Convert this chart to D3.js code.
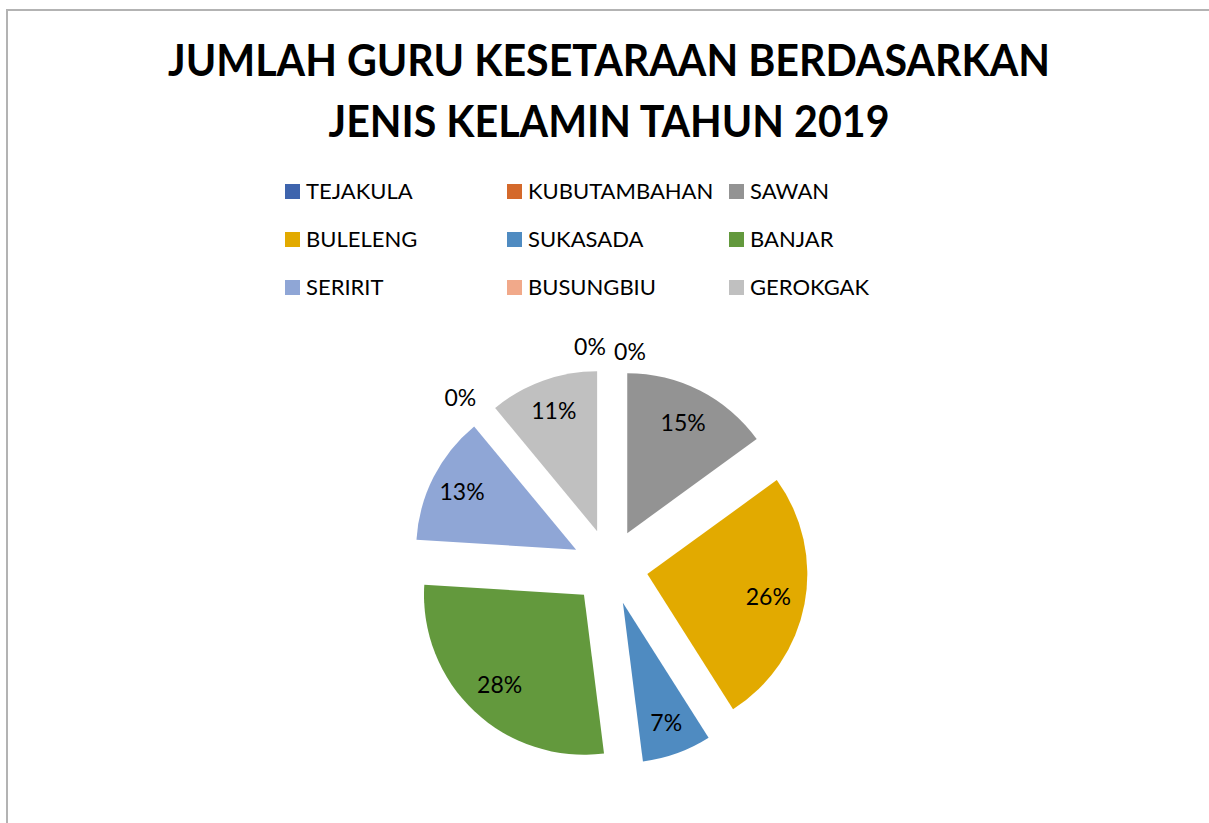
<!DOCTYPE html>
<html>
<head>
<meta charset="utf-8">
<script src="https://cdn.jsdelivr.net/npm/d3@7"></script>
<style>
  body { margin: 0; background: #fff; }
  text { font-family: Lato, "Open Sans", sans-serif; }
</style>
</head>
<body>
<div id="chart"></div>
<script>
(function () {

  // kecamatan + share of teachers (percent)
  const districts = ['TEJAKULA', 'KUBUTAMBAHAN', 'SAWAN', 'BULELENG', 'SUKASADA',
    'BANJAR', 'SERIRIT', 'BUSUNGBIU', 'GEROKGAK']
  const shares = [0, 0, 15, 26, 7, 28, 13, 0, 11]
  const colors = ['#3e64ad', '#d4692b', '#939393', '#e2aa00', '#4f8bc1',
    '#63993d', '#8fa6d6', '#f1a98a', '#c0c0c0']
  const titleLines = ['JUMLAH GURU KESETARAAN BERDASARKAN', 'JENIS KELAMIN TAHUN 2019']
  const titleWidths = [882, 561]

  const width = 1209
  const height = 823

  const svg = d3.select('#chart').append('svg')
    .attr('width', width)
    .attr('height', height)

  // chart frame (only left/top edges are visible)
  svg.append('rect')
    .attr('x', 7)
    .attr('y', 10)
    .attr('width', width + 20)
    .attr('height', height + 20)
    .attr('fill', 'none')
    .attr('stroke', '#b3b3b3')
    .attr('stroke-width', 2)

  svg.selectAll('.title')
    .data(titleLines)
    .join('text')
    .attr('class', 'title')
    .attr('x', 609)
    .attr('y', (d, i) => 76 + i * 61)
    .attr('text-anchor', 'middle')
    .attr('font-size', 43)
    .attr('font-weight', 'bold')
    .attr('fill', '#000')
    .attr('textLength', (d, i) => titleWidths[i])
    .attr('lengthAdjust', 'spacingAndGlyphs')
    .text(d => d)

  // legend, 3 columns
  const colX = d3.scalePoint().domain([0, 1, 2]).range([285, 729])
  const rowY = d3.scalePoint().domain([0, 1, 2]).range([191.5, 287.5])

  const legend = svg.append('g')
    .selectAll('g')
    .data(districts)
    .join('g')
    .attr('transform', (d, i) => `translate(${colX(i % 3)},${rowY(Math.floor(i / 3))})`)

  legend.append('rect')
    .attr('x', 0)
    .attr('y', -7.5)
    .attr('width', 15)
    .attr('height', 15)
    .attr('fill', (d, i) => colors[i])

  legend.append('text')
    .attr('x', 21)
    .attr('y', 7.5)
    .attr('font-size', 22)
    .attr('fill', '#000')
    .text(d => d)

  // exploded pie
  const cx = 610
  const cy = 567
  const radius = 160
  const explode = 38

  const pie = d3.pie().sort(null).value(d => d)
  const arcs = pie(shares)
  const arc = d3.arc().innerRadius(0).outerRadius(radius)

  const g = svg.append('g').attr('transform', `translate(${cx},${cy})`)

  const mid = d => (d.startAngle + d.endAngle) / 2
  const shift = (d, r) => [Math.sin(mid(d)) * r, -Math.cos(mid(d)) * r]

  g.selectAll('path')
    .data(arcs.filter(d => d.value > 0))
    .join('path')
    .attr('d', arc)
    .attr('transform', d => `translate(${shift(d, explode)})`)
    .attr('fill', d => colors[d.index])

  // labels: inside for real slices, outside for the 0% ones
  const zeroAt = {}
  g.selectAll('.lbl')
    .data(arcs)
    .join('text')
    .attr('class', 'lbl')
    .attr('text-anchor', 'middle')
    .attr('font-size', 23)
    .attr('fill', '#000')
    .attr('transform', d => {
      let p
      if (d.value > 0) {
        const e = shift(d, explode)
        const c = shift(d, radius * (d.value < 14 ? 0.8 : 0.77))
        p = [e[0] + c[0], e[1] + c[1]]
      } else {
        p = shift(d, 220)
        const key = d.startAngle.toFixed(3)
        const n = zeroAt[key] = (zeroAt[key] || 0) + 1
        const same = arcs.filter(a => a.value === 0 && a.startAngle.toFixed(3) === key).length
        if (same > 1) {
          p[0] += (n - 1 - (same - 1) / 2) * 40
          p[1] += (n - 1) * 5
        } else {
          p = shift(d, 227)
          p[0] -= 5
          p[1] += 6
        }
      }
      return `translate(${p[0]},${p[1] + 8})`
    })
    .text(d => d.value + '%')

})();
</script>
</body>
</html>
